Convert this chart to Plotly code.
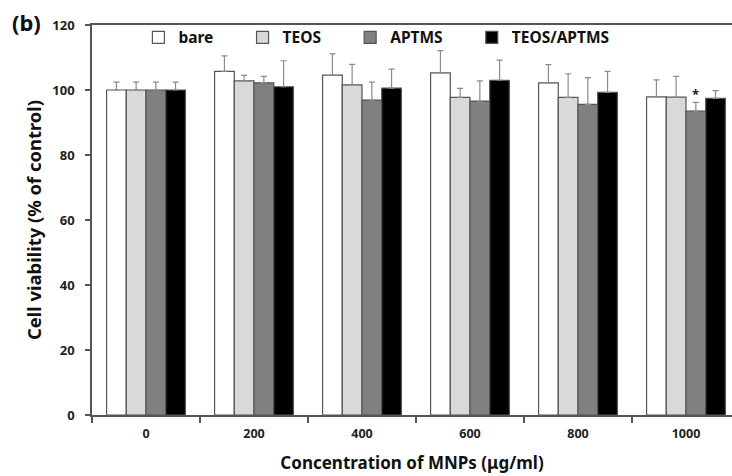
import plotly.graph_objects as go

categories = ["0", "200", "400", "600", "800", "1000"]
series_names = ["bare", "TEOS", "APTMS", "TEOS/APTMS"]
bare = [100.0, 105.7, 104.6, 105.3, 102.2, 97.9]
teos = [100.0, 102.8, 101.6, 97.7, 97.7, 97.8]
aptms = [100.0, 102.2, 96.9, 96.6, 95.6, 93.5]
teos_aptms = [100.0, 101.0, 100.6, 103.0, 99.3, 97.4]
bare_err = [2.4, 4.8, 6.5, 6.8, 5.6, 5.2]
teos_err = [2.4, 1.7, 6.3, 2.8, 7.3, 6.4]
aptms_err = [2.4, 2.0, 5.5, 6.2, 8.2, 2.7]
teos_aptms_err = [2.4, 8.0, 5.8, 6.2, 6.4, 2.4]
y_ticks = [0, 20, 40, 60, 80, 100, 120]

values = [bare, teos, aptms, teos_aptms]
errors = [bare_err, teos_err, aptms_err, teos_aptms_err]
colors = ["#ffffff", "#d9d9d9", "#808080", "#000000"]
PAD = "\u00a0" * 6

FONT = "Noto Sans"
fig = go.Figure()
for name, v, e, c in zip(series_names, values, errors, colors):
    fig.add_trace(go.Bar(
        name=name + PAD, x=categories, y=v,
        marker=dict(color=c, line=dict(color="#555555", width=1.2)),
        error_y=dict(type="data", symmetric=False, array=e, arrayminus=[0] * len(e),
                     color="#8a8a8a", thickness=1.2, width=3),
    ))

fig.add_annotation(x=5, y=aptms[5] + aptms_err[5] + 2.5, text="<b>*</b>", showarrow=False,
                   xshift=10, font=dict(family=FONT, size=13, color="#222"),
                   xref="x", yref="y")

fig.add_annotation(x=-0.1016, y=1.008, xref="paper", yref="paper", text="<b>(b)</b>",
                   xanchor="center", yanchor="middle",
                   showarrow=False, font=dict(family=FONT, size=22, color="#111"))

fig.update_layout(
    width=732, height=476,
    margin=dict(l=92, r=0, t=25, b=61, autoexpand=False),
    plot_bgcolor="white", paper_bgcolor="white",
    barmode="group", bargap=0.27, bargroupgap=0,
    font=dict(family=FONT, color="#222"),
    legend=dict(orientation="h", x=0.0725, y=0.967, xanchor="left", yanchor="middle",
                font=dict(family=FONT, size=15.5, color="#111", weight="bold"),
                itemwidth=30, bgcolor="rgba(0,0,0,0)",
                traceorder="normal"),
    xaxis=dict(type="category", range=[-0.5, 5.426], tickson="boundaries",
               ticks="outside", ticklen=6, tickcolor="#555", tickwidth=1.5,
               showline=True, linecolor="#555", linewidth=1.5, mirror=True,
               showgrid=False, automargin=False, ticklabelstandoff=6,
               tickfont=dict(family=FONT, size=12.5, color="#222", weight="bold"),
               title=dict(text="<b>Concentration of MNPs (μg/ml)</b>", standoff=16,
                          font=dict(family=FONT, size=17, color="#111"))),
    yaxis=dict(range=[0, 120], tickvals=y_ticks, ticks="outside", ticklen=5,
               tickcolor="#555", tickwidth=1.5, showline=True, linecolor="#555",
               linewidth=1.5, showgrid=False, zeroline=False, ticklabelstandoff=8,
               automargin=False,
               tickfont=dict(family=FONT, size=13, color="#222", weight="bold"),
               title=dict(text="<b>Cell viability (% of control)</b>", standoff=6,
                          font=dict(family=FONT, size=18.4, color="#111"))),
)
fig.write_html("out.html", config={"displayModeBar": False},
               post_script="document.body.style.margin='0';")
